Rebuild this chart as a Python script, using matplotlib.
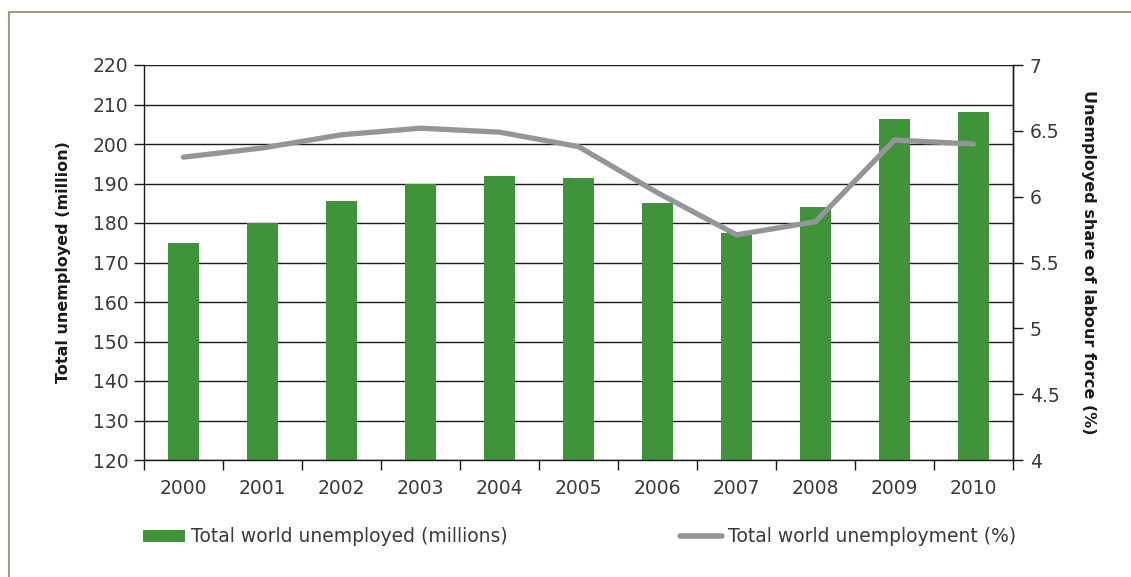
import matplotlib.pyplot as plt
from matplotlib.lines import Line2D
from matplotlib.patches import Patch

years = ['2000', '2001', '2002', '2003', '2004', '2005', '2006', '2007', '2008', '2009', '2010']
unemployed_millions = [175.0, 180.0, 185.5, 189.8, 192.0, 191.4, 185.1, 177.5, 184.0, 206.3, 208.0]
unemployment_rate = [6.30, 6.37, 6.47, 6.52, 6.49, 6.38, 6.03, 5.71, 5.81, 6.43, 6.40]

bar_color = '#3f943a'
line_color = '#939598'
text_color = '#3a3a3a'

plt.rcParams['font.family'] = ['DejaVu Sans']

fig = plt.figure(figsize=(11.31, 5.77), dpi=100)
ax = fig.add_axes([144 / 1131, 1 - 460 / 577, (1013 - 144) / 1131, (460 - 65) / 577])

x = list(range(len(years)))
ax.bar(x, unemployed_millions, width=0.39, color=bar_color, zorder=2)
ax.set_xlim(-0.5, len(years) - 0.5)
ax.set_ylim(120, 220)
ax.set_yticks(range(120, 221, 10))
ax.grid(axis='y', color='#1a1a1a', linewidth=1.0, zorder=0)
ax.set_axisbelow(True)

# year labels centred, tick marks on category boundaries
ax.set_xticks(x)
ax.set_xticklabels(years)
ax.set_xticks([i - 0.5 for i in range(len(years) + 1)], minor=True)
ax.tick_params(axis='x', which='major', length=0, pad=14, labelsize=13.5, labelcolor=text_color)
ax.tick_params(axis='x', which='minor', length=7, width=1.0, color='#1a1a1a')
ax.tick_params(axis='y', length=7, width=1.0, color='#1a1a1a', labelsize=13.5,
               labelcolor=text_color, pad=4)

ax.spines['top'].set_visible(False)
for side in ['left', 'bottom', 'right']:
    ax.spines[side].set_color('#1a1a1a')
    ax.spines[side].set_linewidth(1.0)

ax.set_ylabel('Total unemployed (million)', fontsize=11.5, fontweight='bold',
              color='#1a1a1a', labelpad=16)

ax2 = ax.twinx()
ax2.plot(x, unemployment_rate, color=line_color, linewidth=3.8, solid_capstyle='round',
         solid_joinstyle='miter', zorder=3)
ax2.set_ylim(4, 7)
ax2.set_yticks([4, 4.5, 5, 5.5, 6, 6.5, 7])
ax2.set_yticklabels(['4', '4.5', '5', '5.5', '6', '6.5', '7'])
ax2.tick_params(axis='y', length=7, width=1.0, color='#1a1a1a', labelsize=13.5,
                labelcolor=text_color, pad=5)
for side in ['top', 'left', 'bottom']:
    ax2.spines[side].set_visible(False)
ax2.spines['right'].set_color('#1a1a1a')
ax2.spines['right'].set_linewidth(1.0)
ax2.set_ylabel('Unemployed share of labour force (%)', fontsize=11.5, fontweight='bold',
               color='#1a1a1a', rotation=270, labelpad=26)

# legends
bar_handle = Patch(facecolor=bar_color, edgecolor='none')
line_handle = Line2D([0], [0], color=line_color, linewidth=4, solid_capstyle='round')
fig.legend([bar_handle], ['Total world unemployed (millions)'], loc='center left',
           bbox_to_anchor=(126 / 1131, 1 - 537 / 577), frameon=False, fontsize=13.5,
           handlelength=2.25, handleheight=0.6, handletextpad=0.3, labelcolor=text_color)
fig.legend([line_handle], ['Total world unemployment (%)'], loc='center left',
           bbox_to_anchor=(663 / 1131, 1 - 537 / 577), frameon=False, fontsize=13.5,
           handlelength=2.25, handletextpad=0.3, labelcolor=text_color)

# frame around the chart (top and left edges)
frame_color = '#8fa584'
fig.add_artist(Line2D([9 / 1131, 1.0], [1 - 12 / 577, 1 - 12 / 577], color=frame_color,
                      linewidth=1.5, transform=fig.transFigure))
fig.add_artist(Line2D([9 / 1131, 9 / 1131], [0.0, 1 - 12 / 577], color=frame_color,
                      linewidth=1.5, transform=fig.transFigure))

fig.savefig('out.png', dpi=100)
